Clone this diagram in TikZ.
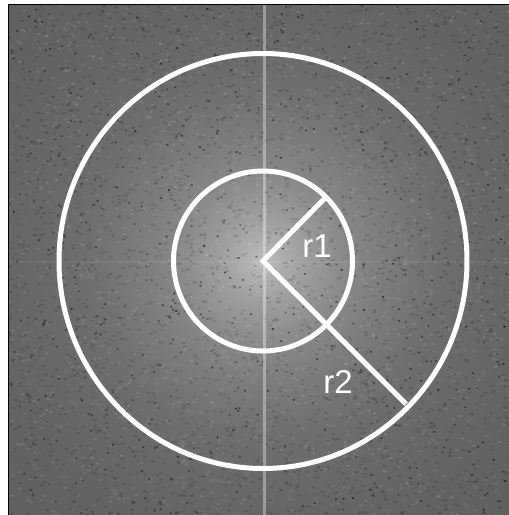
\documentclass[tikz,border=0pt]{standalone}
\usepackage{fontspec}
\setmainfont{Liberation Sans}
\begin{document}
\begin{tikzpicture}[x=1pt,y=-1pt,
  ring/.style={draw=white,line width=5pt},
  ray/.style={draw=white,line width=5pt},
  lbl/.style={text=white,font=\fontsize{33}{33}\selectfont,inner sep=0pt}]
\useasboundingbox (0,0) rectangle (509,515);
\fill[white] (0,0) rectangle (509,515);
\coordinate (c) at (263,261);
\begin{scope}
  \clip (8,4) rectangle (509,515);
  \foreach \r in {380,376,...,0} {
    \pgfmathsetmacro\L{(92+100*exp(-\r/110))/255}
    \definecolor{tmpg}{gray}{\L}
    \fill[tmpg] (c) circle (\r pt);
  }
  \pgfmathsetseed{7}
  \fill[black,opacity=0.09] foreach \i in {1,...,1500} {({8+rnd*501},{4+rnd*511}) rectangle ++(3.5,2)};
  \fill[black,opacity=0.14] foreach \i in {1,...,1100} {({8+rnd*501},{4+rnd*511}) rectangle ++(3,2)};
  \fill[black,opacity=0.3] foreach \i in {1,...,450} {({8+rnd*501},{4+rnd*511}) rectangle ++(2,2)};
  \fill[black,opacity=0.5] foreach \i in {1,...,250} {({8+rnd*501},{4+rnd*511}) rectangle ++(2,1.6)};
  \fill[white,opacity=0.07] foreach \i in {1,...,1200} {({8+rnd*501},{4+rnd*511}) rectangle ++(3.5,2)};
  \fill[white,opacity=0.12] foreach \i in {1,...,600} {({8+rnd*501},{4+rnd*511}) rectangle ++(2.5,2)};
  \draw[white,opacity=0.35,line width=2.5pt] (264.5,4) -- (264.5,515);
  \draw[white,opacity=0.06,line width=2pt] (8,262) -- (509,262);
\end{scope}
\draw[black,line width=1pt] (8,515) -- (8,4) -- (509,4);
% circles
\draw[ring] (c) ellipse (89.5pt and 90pt);
\draw[ring] (c) ellipse (204pt and 207.5pt);
\coordinate (p1) at (326,197);
\coordinate (p2) at (406,404);
\draw[ray,line join=miter] (p1) -- (c) -- (p2);
\node[lbl] (r1) at (317,246) {r1};
\node[lbl] (r2) at (338,382) {r2};
\end{tikzpicture}
\end{document}
